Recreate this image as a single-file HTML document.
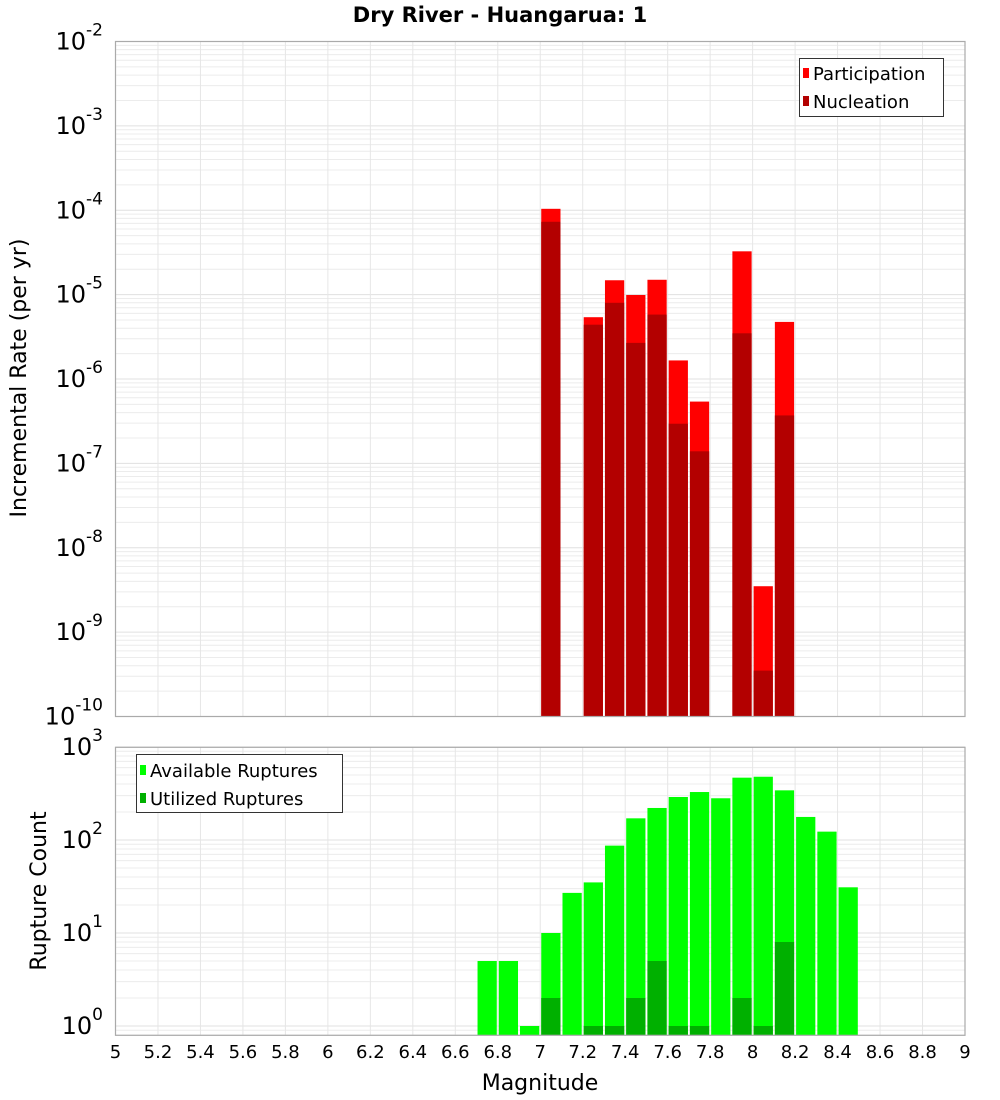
<!DOCTYPE html>
<html><head><meta charset="utf-8"><style>
html,body{margin:0;padding:0;background:#fff;}
svg{display:block;font-family:"DejaVu Sans","Liberation Sans",sans-serif;}
</style></head><body>
<svg id="c" width="1000" height="1100" viewBox="0 0 1000 1100" xmlns="http://www.w3.org/2000/svg"></svg>
<script>
const magBins=[7.0,7.2,7.3,7.4,7.5,7.6,7.7,7.9,8.0,8.1];
const participation=[1.04e-4,5.4e-6,1.48e-5,9.9e-6,1.5e-5,1.66e-6,5.4e-7,3.26e-5,3.5e-9,4.75e-6];
const nucleation=[7.3e-5,4.4e-6,8.0e-6,2.68e-6,5.8e-6,2.95e-7,1.39e-7,3.48e-6,3.5e-10,3.7e-7];
const countBins=[6.7,6.8,6.9,7.0,7.1,7.2,7.3,7.4,7.5,7.6,7.7,7.8,7.9,8.0,8.1,8.2,8.3,8.4];
const available=[5,5,1,10,27,35,87,171,221,290,328,281,468,479,342,177,123,31];
const utilized=[0,0,0,2,0,1,1,2,5,1,1,0,2,1,8,0,0,0];
const xTicks=[5,5.2,5.4,5.6,5.8,6,6.2,6.4,6.6,6.8,7,7.2,7.4,7.6,7.8,8,8.2,8.4,8.6,8.8,9];
const topExps=[-2,-3,-4,-5,-6,-7,-8,-9,-10];
const botExps=[3,2,1,0];

const svg=document.getElementById('c');const NS='http://www.w3.org/2000/svg';
function mk(tag,attrs,parent){const e=document.createElementNS(NS,tag);for(const k in attrs)e.setAttribute(k,attrs[k]);(parent||svg).appendChild(e);return e;}
const L=115.5,R=965;
const X=m=>L+(m-5)/4*(R-L);
const T0=41.5,T1=716.5;
const yTop=v=>T0+(-2-Math.log10(v))/8*(T1-T0);
const B0=747.3,B1=1035.3,BPD=93,B_ONE=1026;
const yBot=v=>B_ONE-Math.log10(v)*BPD;

function grid(y0,y1,yf,expMin,expMax){
  const g=mk('g',{});
  
  for(let e=expMin;e<=expMax;e++){for(let k=1;k<10;k++){const y=yf(k*Math.pow(10,e));if(y<y0-0.5||y>y1+0.5)continue;mk('line',{x1:L,x2:R,y1:y,y2:y,stroke:k==1?'#e0e0e0':'#ececec','stroke-width':1},g);}}
  xTicks.forEach(t=>{const x=X(t);mk('line',{x1:x,x2:x,y1:y0,y2:y1,stroke:'#e6e6e6','stroke-width':1},g);});
}
grid(T0,T1,yTop,-10,-2);
grid(B0,B1,yBot,-1,3);

// top bars
const bw=(R-L)/40;
magBins.forEach((m,i)=>{
  const x=X(m)+1;
  const p=mk('rect',{x:x,y:yTop(participation[i]),width:bw-2,height:T1-yTop(participation[i]),fill:'#ff0000'});
  
  const n=mk('rect',{x:x,y:yTop(nucleation[i]),width:bw-2,height:T1-yTop(nucleation[i]),fill:'#b30000'});
  
});
countBins.forEach((m,i)=>{
  const x=X(m)+1;
  const a=mk('rect',{x:x,y:yBot(available[i]),width:bw-2,height:B1-yBot(available[i]),fill:'#00ff00'});
  
  if(utilized[i]>0){const u=mk('rect',{x:x,y:yBot(utilized[i]),width:bw-2,height:B1-yBot(utilized[i]),fill:'#00b000'});
  }
});

// frames
mk('rect',{x:L,y:T0,width:R-L,height:T1-T0,fill:'none',stroke:'#aaa','stroke-width':1.2,});
mk('rect',{x:L,y:B0,width:R-L,height:B1-B0,fill:'none',stroke:'#aaa','stroke-width':1.2,});

// y ticks
function ylab(y,e,name){const t=mk('text',{x:103,y:y+8,'font-size':24,'text-anchor':'end',fill:'#000'});
  
  t.innerHTML='10<tspan dy="-14" font-size="17">'+e+'</tspan>';}
topExps.forEach(e=>ylab(yTop(Math.pow(10,e)),e,'top-y-tick'));
botExps.forEach(e=>ylab(yBot(Math.pow(10,e)),e,'bottom-y-tick'));
// x ticks
xTicks.forEach(t=>{const e=mk('text',{x:X(t),y:1058,'font-size':18,'text-anchor':'middle',fill:'#000'});
  e.textContent=String(t);});
</script>
<svg style="position:absolute;left:0;top:0" width="1000" height="1100" xmlns="http://www.w3.org/2000/svg" font-family="DejaVu Sans, Liberation Sans, sans-serif">
<text x="500" y="22" font-size="21" font-weight="bold" text-anchor="middle">Dry River - Huangarua: 1</text>
<text transform="translate(26,378) rotate(-90)" font-size="22" text-anchor="middle">Incremental Rate (per yr)</text>
<text transform="translate(46,891) rotate(-90)" font-size="22" text-anchor="middle">Rupture Count</text>
<text x="540" y="1090" font-size="22" text-anchor="middle">Magnitude</text>
<g>
<rect x="799.5" y="58.5" width="144" height="58" fill="#fff" stroke="#333" stroke-width="1"/>
<rect x="803" y="68" width="6" height="10" fill="#ff0000"/>
<text x="813" y="80" font-size="18">Participation</text>
<rect x="803" y="96" width="6" height="10" fill="#b30000"/>
<text x="813" y="108" font-size="18">Nucleation</text>
</g>
<g>
<rect x="136.5" y="754.5" width="206" height="58" fill="#fff" stroke="#333" stroke-width="1"/>
<rect x="140" y="765" width="6" height="10" fill="#00ff00"/>
<text x="150" y="777" font-size="18">Available Ruptures</text>
<rect x="140" y="793" width="6" height="10" fill="#00b000"/>
<text x="150" y="805" font-size="18">Utilized Ruptures</text>
</g>
</svg>
</body></html>
